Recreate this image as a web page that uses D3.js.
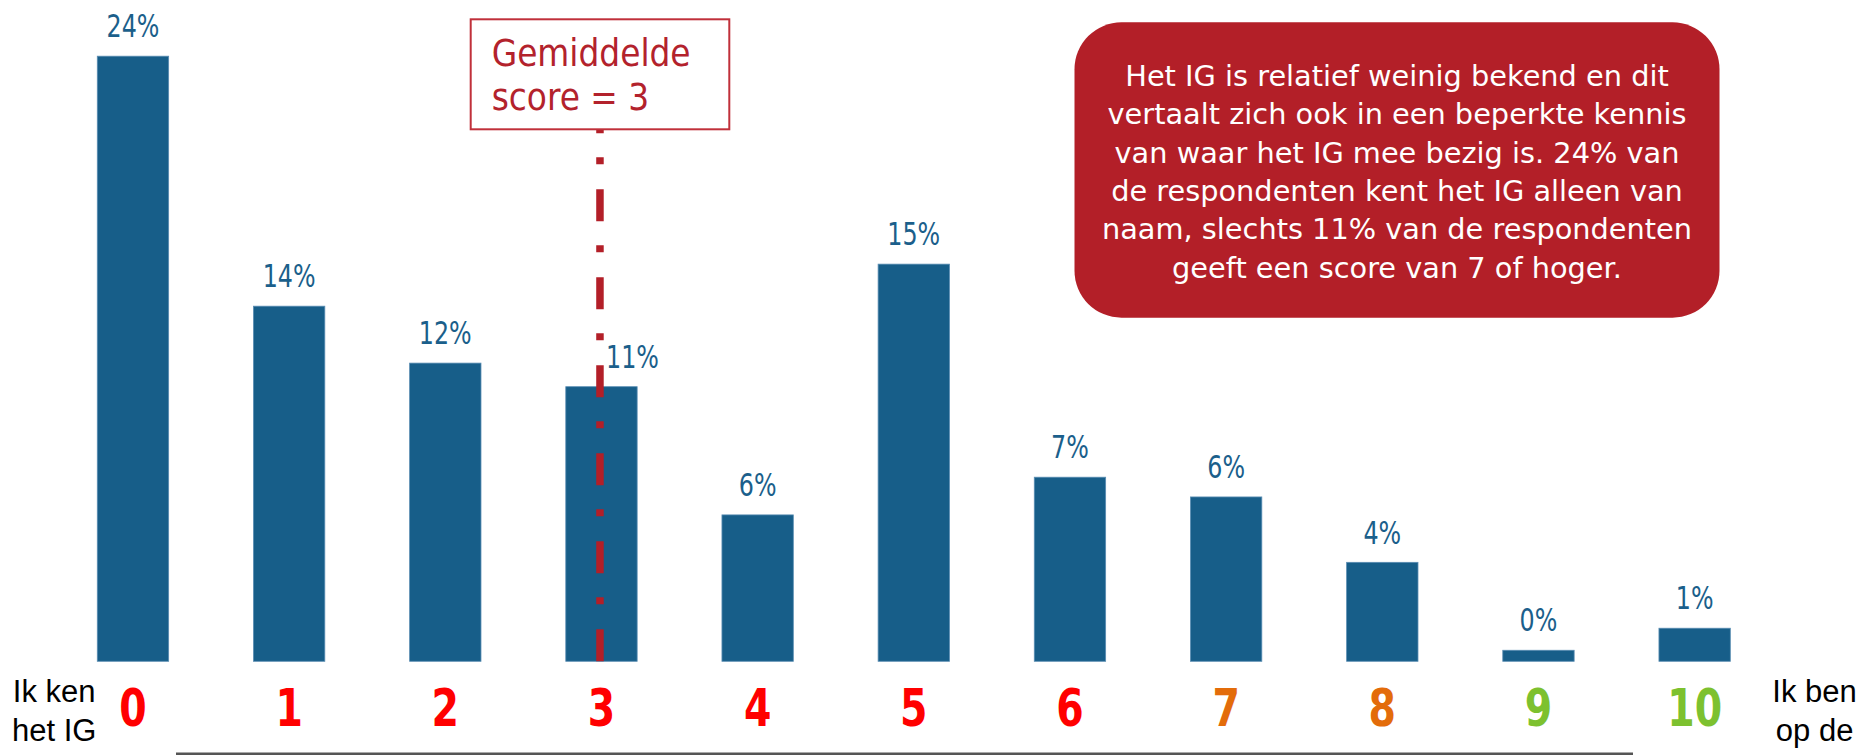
<!DOCTYPE html>
<html>
<head>
<meta charset="utf-8">
<script src="https://cdn.jsdelivr.net/npm/d3@7"></script>
<style>
  html, body { margin: 0; padding: 0; background: #ffffff; }
  svg { display: block; }
</style>
</head>
<body>
<svg id="chart" width="1867" height="755"></svg>
<script>
// Scores 0..10 and the share of respondents giving each score (percent)
const scores = ["0", "1", "2", "3", "4", "5", "6", "7", "8", "9", "10"];
const shares = [23.6, 13.85, 11.63, 10.71, 5.71, 15.49, 7.18, 6.41, 3.86, 0.43, 1.29];
const scoreColors = ["#ff0000", "#ff0000", "#ff0000", "#ff0000", "#ff0000", "#ff0000", "#ff0000",
                     "#e36c0a", "#e36c0a", "#7dc12f", "#7dc12f"];
const meanScore = 3;
const meanLabel = ["Gemiddelde", "score = " + meanScore];
const leftAnchor = ["Ik ken", "het IG"];
const rightAnchor = ["Ik ben", "op de"];
const noteLines = [
  "Het IG is relatief weinig bekend en dit",
  "vertaalt zich ook in een beperkte kennis",
  "van waar het IG mee bezig is. 24% van",
  "de respondenten kent het IG alleen van",
  "naam, slechts 11% van de respondenten",
  "geeft een score van 7 of hoger."
];

const barColor = "#175e89";
const labelColor = "#1b5f8b";
const accentRed = "#b31f28";
const condensed = "'DejaVu Sans Condensed', 'DejaVu Sans', sans-serif";

const svg = d3.select("#chart");

const x = d3.scaleBand()
  .domain(scores)
  .range([19.2, 1808.4])
  .paddingInner(0.543)
  .paddingOuter(0.5);

const baseY = 661.3;
const y = d3.scaleLinear().domain([0, 24]).range([baseY, baseY - 24 * 25.64]);

// Bars
svg.append("g").selectAll("rect")
  .data(shares)
  .join("rect")
  .attr("x", (d, i) => x(scores[i]))
  .attr("y", d => y(d))
  .attr("width", x.bandwidth())
  .attr("height", d => y(0) - y(d))
  .attr("fill", barColor)
  .attr("stroke", "#5a8db3")
  .attr("stroke-width", 0.8);

// Value labels above the bars (narrowed type)
const fmt = d3.format(".0f");
svg.append("g").selectAll("text")
  .data(shares)
  .join("text")
  .attr("transform", (d, i) => {
    const cx = x(scores[i]) + x.bandwidth() / 2 + (scores[i] === String(meanScore) ? 31 : 0);
    return `translate(${cx},${y(d) - 18.8}) scale(0.84,1)`;
  })
  .attr("text-anchor", "middle")
  .attr("font-family", condensed)
  .attr("font-size", 31.5)
  .attr("fill", labelColor)
  .text(d => fmt(d) + "%");

// Score axis along the bottom
const axis = svg.append("g")
  .attr("transform", `translate(0,${baseY})`)
  .call(d3.axisBottom(x).tickSize(0).tickPadding(65));
axis.select(".domain").remove();
axis.selectAll(".tick text")
  .attr("font-family", condensed)
  .attr("font-weight", "bold")
  .attr("font-size", 51)
  .attr("dy", 0)
  .attr("transform", "scale(0.86,1)")
  .attr("fill", (d, i) => scoreColors[i]);

// Scale anchors
function anchorText(lines, cx) {
  svg.append("g").selectAll("text")
    .data(lines)
    .join("text")
    .attr("x", cx)
    .attr("y", (d, i) => 702.3 + i * 38.7)
    .attr("text-anchor", "middle")
    .attr("font-family", "'Liberation Sans', Arial, sans-serif")
    .attr("font-size", 31)
    .attr("fill", "#000000")
    .text(d => d);
}
anchorText(leftAnchor, 54.2);
anchorText(rightAnchor, 1814.6);

// Mean score marker
const meanX = x(String(meanScore)) + x.bandwidth() / 2 - 1.5;
svg.append("line")
  .attr("x1", meanX).attr("x2", meanX)
  .attr("y1", y(0)).attr("y2", 110)
  .attr("stroke", accentRed)
  .attr("stroke-width", 7.5)
  .attr("stroke-dasharray", "32,25,7,24");

svg.append("rect")
  .attr("x", 470.7).attr("y", 19.3)
  .attr("width", 258.6).attr("height", 110)
  .attr("fill", "#ffffff")
  .attr("stroke", "#c0303a")
  .attr("stroke-width", 2);

svg.append("g").selectAll("text")
  .data(meanLabel)
  .join("text")
  .attr("x", 491.7)
  .attr("y", (d, i) => 66 + i * 44)
  .attr("font-family", condensed)
  .attr("font-size", 36.5)
  .attr("fill", "#b3222c")
  .text(d => d);

// Callout note
svg.append("rect")
  .attr("x", 1074.5).attr("y", 22.3)
  .attr("width", 645).attr("height", 295.4)
  .attr("rx", 47).attr("ry", 47)
  .attr("fill", accentRed);

svg.append("g").selectAll("text")
  .data(noteLines)
  .join("text")
  .attr("x", 1397)
  .attr("y", (d, i) => 86 + i * 38.3)
  .attr("text-anchor", "middle")
  .attr("font-family", "'DejaVu Sans', sans-serif")
  .attr("font-size", 28.8)
  .attr("fill", "#ffffff")
  .text(d => d);

// Rule along the bottom edge
svg.append("line")
  .attr("x1", 176).attr("x2", 1633)
  .attr("y1", 754).attr("y2", 754)
  .attr("stroke", "#555555")
  .attr("stroke-width", 3);
</script>
</body>
</html>
